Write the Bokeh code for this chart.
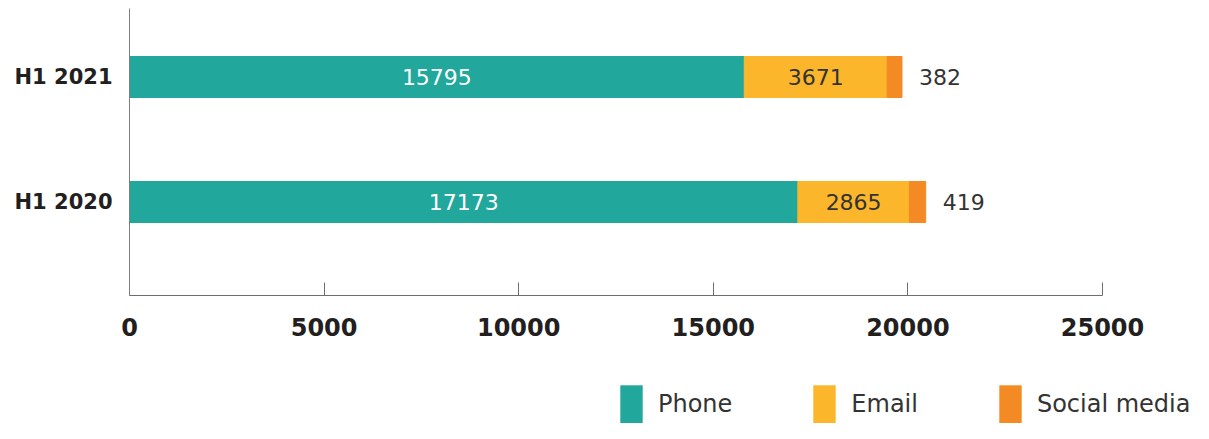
from bokeh.plotting import figure
from bokeh.layouts import column
from bokeh.models import ColumnDataSource, Range1d, FixedTicker, Legend, LegendItem, LabelSet
from bokeh.core.properties import value
from bokeh.embed import file_html
from bokeh.resources import INLINE

# ---- data ----
categories = ["H1 2020", "H1 2021"]
phone = [17173, 15795]
email = [2865, 3671]
social = [419, 382]
series_names = ["Phone", "Email", "Social media"]
x_ticks = [0, 5000, 10000, 15000, 20000, 25000]

colors = ["#21a79b", "#fbb62b", "#f48a23"]
FONT = "DejaVu Sans"

ypos = list(range(1, len(categories) + 1))
src = ColumnDataSource(dict(
    y=ypos,
    phone=phone,
    email=email,
    social=social,
    phone_mid=[v / 2 for v in phone],
    email_mid=[a + b / 2 for a, b in zip(phone, email)],
    total=[a + b + c for a, b, c in zip(phone, email, social)],
    phone_lbl=[str(v) for v in phone],
    email_lbl=[str(v) for v in email],
    social_lbl=[str(v) for v in social],
))

p = figure(width=1193, height=381, output_backend="svg", toolbar_location=None,
           x_range=Range1d(0, x_ticks[-1]), y_range=Range1d(0.252, 2.548),
           min_border_left=129, min_border_right=91, min_border_top=8, min_border_bottom=86)
p.outline_line_color = None
p.xgrid.grid_line_color = None
p.ygrid.grid_line_color = None

rs = p.hbar_stack(["phone", "email", "social"], y="y", height=0.328, color=colors, source=src)

p.add_layout(LabelSet(x="phone_mid", y="y", text="phone_lbl", source=src, text_align="center",
                      text_baseline="middle", text_color="white", text_font=value(FONT),
                      text_font_size="22px"))
p.add_layout(LabelSet(x="email_mid", y="y", text="email_lbl", source=src, text_align="center",
                      text_baseline="middle", text_color="#333333", text_font=value(FONT),
                      text_font_size="22px"))
p.add_layout(LabelSet(x="total", y="y", text="social_lbl", source=src, text_align="left", x_offset=17,
                      text_baseline="middle", text_color="#333333", text_font=value(FONT),
                      text_font_size="22px"))

xa = p.xaxis[0]
xa.ticker = FixedTicker(ticks=x_ticks)
xa.major_label_overrides = {t: str(t) for t in x_ticks}
xa.major_tick_in = 13
xa.major_tick_out = 0
xa.minor_tick_line_color = None
xa.axis_line_color = "#6d6e71"
xa.major_tick_line_color = "#6d6e71"
xa.major_label_standoff = 22
xa.major_label_text_font = FONT
xa.major_label_text_font_style = "bold"
xa.major_label_text_font_size = "24px"
xa.major_label_text_color = "#231f20"

ya = p.yaxis[0]
ya.ticker = FixedTicker(ticks=ypos)
ya.major_label_overrides = {y: c for y, c in zip(ypos, categories)}
ya.major_tick_line_color = None
ya.minor_tick_line_color = None
ya.axis_line_color = "#808080"
ya.major_label_standoff = 11
ya.major_label_text_font = FONT
ya.major_label_text_font_style = "bold"
ya.major_label_text_font_size = "21px"
ya.major_label_text_color = "#231f20"

# ---- legend strip ----
lg = figure(width=1193, height=42, output_backend="svg", toolbar_location=None,
            x_axis_type=None, y_axis_type=None, x_range=Range1d(0, 1), y_range=Range1d(0, 1),
            min_border_left=0, min_border_right=0, min_border_top=0, min_border_bottom=0)
lg.outline_line_color = None
lg.xgrid.grid_line_color = None
lg.ygrid.grid_line_color = None
legend_x = 617 - 129
if "frame_align" in lg.properties():
    lg.frame_align = False
    legend_x = 617
hidden = ColumnDataSource(dict(x=[-10], y=[-10]))  # off-range sources for legend swatches
dummies = [lg.rect(x="x", y="y", width=0.1, height=0.1, fill_color=c, line_color=None, source=hidden)
           for c in colors]
legend = Legend(items=[LegendItem(label=n, renderers=[r]) for n, r in zip(series_names, dummies)],
                orientation="horizontal", location=(legend_x, -5),
                glyph_width=28, glyph_height=48, label_standoff=13, spacing=78,
                padding=0, margin=0, border_line_color=None, background_fill_alpha=0,
                label_text_font=FONT, label_text_font_size="24px", label_text_color="#333333",
                label_height=48)
lg.add_layout(legend, "center")

layout = column(p, lg, spacing=0)
open("out.html", "w").write(file_html(layout, INLINE))
